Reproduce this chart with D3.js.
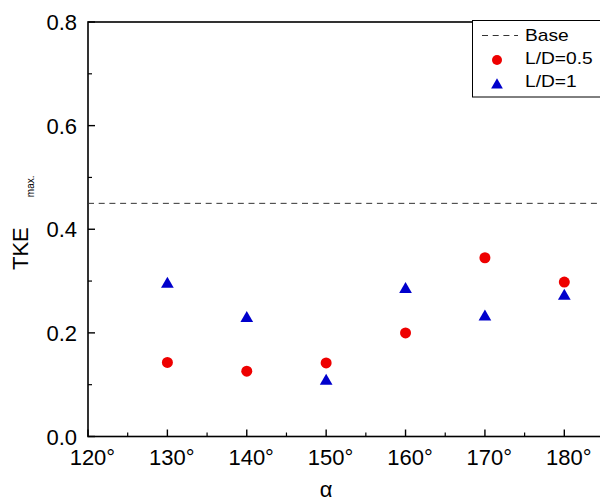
<!DOCTYPE html>
<html>
<head>
<meta charset="utf-8">
<script src="https://cdn.jsdelivr.net/npm/d3@7"></script>
<style>
  body { margin: 0; background: #fff; }
  svg { font-family: "Liberation Sans", Arial, sans-serif; }
</style>
</head>
<body>
<div id="chart"></div>
<script>
// angles (deg) and TKE max values
var angles = [130, 140, 150, 160, 170, 180];
var ld05 = [0.143, 0.126, 0.142, 0.200, 0.345, 0.298];
var ld1 = [0.294, 0.228, 0.107, 0.284, 0.231, 0.271];
var baseValue = 0.45;

var xTicks = [120, 130, 140, 150, 160, 170, 180];
var xMinor = [125, 135, 145, 155, 165, 175];
var yTicks = [0, 0.2, 0.4, 0.6, 0.8];
var yMinor = [0.1, 0.3, 0.5, 0.7];

var legendLabels = ["Base", "L/D=0.5", "L/D=1"];

var width = 600, height = 501;
// plot box edges (right edge falls just past the picture)
var plotLeft = 88, plotTop = 22, plotRight = 604, plotBottom = 436.5;

var svg = d3.select("#chart").append("svg")
    .attr("width", width)
    .attr("height", height);

var x = d3.scaleLinear().domain([120, 185]).range([plotLeft, plotRight]);
var y = d3.scaleLinear().domain([0, 0.8]).range([plotBottom, plotTop]);

// frame
svg.append("rect")
    .attr("x", plotLeft).attr("y", plotTop)
    .attr("width", plotRight - plotLeft).attr("height", plotBottom - plotTop)
    .attr("fill", "none").attr("stroke", "#000").attr("stroke-width", 1.6);

// x axis (ticks inward)
var xAxis = svg.append("g").attr("transform", "translate(0," + plotBottom + ")");
xAxis.selectAll(".major").data(xTicks).enter().append("line")
    .attr("x1", d => x(d)).attr("x2", d => x(d))
    .attr("y1", 0).attr("y2", -7)
    .attr("stroke", "#000").attr("stroke-width", 1.4);
xAxis.selectAll(".minor").data(xMinor).enter().append("line")
    .attr("x1", d => x(d)).attr("x2", d => x(d))
    .attr("y1", 0).attr("y2", -4)
    .attr("stroke", "#000").attr("stroke-width", 1.2);
xAxis.selectAll("text").data(xTicks).enter().append("text")
    .attr("x", d => x(d))
    .attr("dx", "0.2em")
    .attr("y", 28.5)
    .attr("text-anchor", "middle")
    .attr("font-size", 22)
    .text(d => d + "°");

// y axis (ticks inward)
var yAxis = svg.append("g").attr("transform", "translate(" + plotLeft + ",0)");
yAxis.selectAll(".major").data(yTicks).enter().append("line")
    .attr("y1", d => y(d)).attr("y2", d => y(d))
    .attr("x1", 0).attr("x2", 7)
    .attr("stroke", "#000").attr("stroke-width", 1.4);
yAxis.selectAll(".minor").data(yMinor).enter().append("line")
    .attr("y1", d => y(d)).attr("y2", d => y(d))
    .attr("x1", 0).attr("x2", 4)
    .attr("stroke", "#000").attr("stroke-width", 1.2);
yAxis.selectAll("text").data(yTicks).enter().append("text")
    .attr("x", -11)
    .attr("y", d => y(d) + 8)
    .attr("text-anchor", "end")
    .attr("font-size", 22)
    .text(d3.format(".1f"));

// axis titles
svg.append("text")
    .attr("x", x(150))
    .attr("y", 497)
    .attr("text-anchor", "middle")
    .attr("font-size", 22)
    .text("α");

var yTitle = svg.append("text")
    .attr("transform", "translate(28,270) rotate(-90)")
    .attr("font-size", 22);
yTitle.append("tspan").text("TKE");
yTitle.append("tspan")
    .attr("dx", 30)
    .attr("dy", 6)
    .attr("font-size", 10)
    .text("max.");

// base line
svg.append("line")
    .attr("x1", plotLeft).attr("x2", plotRight)
    .attr("y1", y(baseValue)).attr("y2", y(baseValue))
    .attr("stroke", "#333").attr("stroke-width", 1)
    .attr("stroke-dasharray", "6,4.7");

// points
svg.selectAll(".circ").data(angles).enter().append("circle")
    .attr("cx", d => x(d))
    .attr("cy", (d, i) => y(ld05[i]))
    .attr("r", 5.5)
    .attr("fill", "#ee0000");

var tri = d3.symbol().type(d3.symbolTriangle).size(70);
svg.selectAll(".tri").data(angles).enter().append("path")
    .attr("d", tri)
    .attr("transform", (d, i) => "translate(" + x(d) + "," + y(ld1[i]) + ")")
    .attr("fill", "#0000cc");

// legend
var lg = svg.append("g");
lg.append("rect")
    .attr("x", 472.5).attr("y", 20.5)
    .attr("width", 140).attr("height", 76.5)
    .attr("fill", "#fff").attr("stroke", "#000").attr("stroke-width", 1);
lg.append("line")
    .attr("x1", 482).attr("x2", 518)
    .attr("y1", 35.5).attr("y2", 35.5)
    .attr("stroke", "#333").attr("stroke-width", 1)
    .attr("stroke-dasharray", "6,4.7");
lg.append("circle")
    .attr("cx", 497).attr("cy", 60).attr("r", 5)
    .attr("fill", "#ee0000");
lg.append("path")
    .attr("d", d3.symbol().type(d3.symbolTriangle).size(60))
    .attr("transform", "translate(497,85)")
    .attr("fill", "#0000cc");
// legend text is a bit wider in the original, stretch it horizontally
lg.append("g")
    .attr("transform", "translate(525,0) scale(1.2,1)")
    .selectAll("text").data(legendLabels).enter().append("text")
    .attr("x", 0)
    .attr("y", (d, i) => 41.5 + i * 23)
    .attr("font-size", 16)
    .text(d => d);
</script>
</body>
</html>
